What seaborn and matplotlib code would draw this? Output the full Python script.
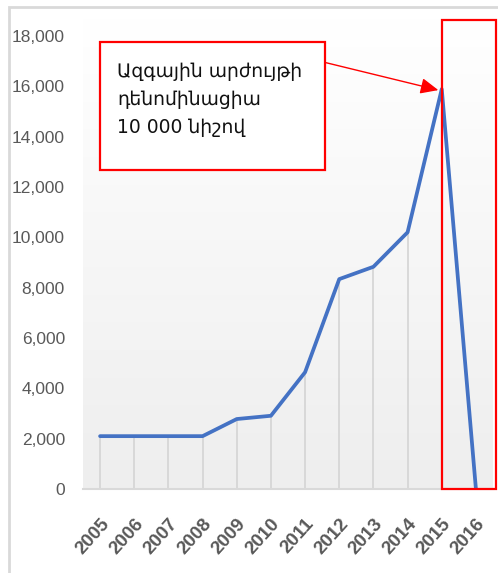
import numpy as np
import pandas as pd
import matplotlib
matplotlib.use("Agg")
import matplotlib.pyplot as plt
from matplotlib.patches import Rectangle
import seaborn as sns

# ---- data ----
years = [2005, 2006, 2007, 2008, 2009, 2010, 2011, 2012, 2013, 2014, 2015, 2016]
values = [2100, 2100, 2100, 2100, 2780, 2910, 4640, 8340, 8830, 10200, 15890, 0]
year_labels = [str(y) for y in years]
y_ticks = [0, 2000, 4000, 6000, 8000, 10000, 12000, 14000, 16000, 18000]
note_text = "Ազգային արժույթի\nդենոմինացիա\n10 000 նիշով"

df = pd.DataFrame({"year": years, "value": values})

sns.set_theme(style="white")
plt.rcParams["font.family"] = ["Liberation Sans", "DejaVu Sans"]

W, H = 498, 573
fig = plt.figure(figsize=(W / 100, H / 100), dpi=100)
fig.patch.set_facecolor("white")

# axes placement (pixels)
ax_left, ax_right, ax_bottom_px, ax_top_px = 83, 493, 489, 18
ax = fig.add_axes([ax_left / W, (H - ax_bottom_px) / H,
                   (ax_right - ax_left) / W, (ax_bottom_px - ax_top_px) / H])

ymax = 18000 * (ax_bottom_px - ax_top_px) / (ax_bottom_px - 36)
ax.set_xlim(years[0] - 0.5, years[-1] + 0.5)
ax.set_ylim(0, ymax)

# gradient background
grad = np.linspace(0, 1, 256).reshape(-1, 1)
cmap = matplotlib.colors.LinearSegmentedColormap.from_list("g", ["#ffffff", "#eeeeee"])
ax.imshow(grad, extent=[years[0] - 0.5, years[-1] + 0.5, 0, ymax], aspect="auto",
          cmap=cmap, origin="upper", zorder=0)

# drop lines
ax.vlines(df["year"], 0, df["value"], color="#d4d4d4", linewidth=1.2, zorder=1)

sns.lineplot(data=df, x="year", y="value", ax=ax, color="#4472C4", linewidth=2.7,
             zorder=3)

for s in ["top", "right", "left"]:
    ax.spines[s].set_visible(False)
ax.spines["bottom"].set_color("#d9d9d9")
ax.spines["bottom"].set_linewidth(1.5)
ax.set_xlabel("")
ax.set_ylabel("")

ax.set_yticks(y_ticks)
ax.set_yticklabels([f"{v:,}" for v in y_ticks], fontsize=12.5, color="#595959")
ax.tick_params(axis="y", length=0, pad=13)
ax.set_xticks(years)
ax.set_xticklabels(year_labels, rotation=48, ha="right", rotation_mode="anchor",
                   fontsize=13.5, fontweight="bold", color="#595959")
ax.tick_params(axis="x", length=0, pad=19)

# red rectangle around 2015-2016
rect = Rectangle((years[-2], 0), 1.6, 18650, fill=False, edgecolor="#ff0000",
                 linewidth=1.6, clip_on=False, zorder=5)
ax.add_patch(rect)

# annotation box
box_x0, box_x1 = 2005.0, 2011.58
box_y0, box_y1 = 12677, 17764
ax.add_patch(Rectangle((box_x0, box_y0), box_x1 - box_x0, box_y1 - box_y0,
                       facecolor="white", edgecolor="#ff0000", linewidth=1.6,
                       zorder=6, clip_on=False))
ax.text(box_x0 + 0.5, 16950, note_text, fontsize=13.5, color="#111111",
        family=["DejaVu Sans"], va="top", ha="left", linespacing=1.6, zorder=7)
ax.annotate("", xy=(years[-2] - 0.1, 15850), xytext=(box_x1, 16950),
            arrowprops=dict(arrowstyle="-|>,head_length=0.9,head_width=0.4",
                            color="#ff0000", linewidth=1.0, shrinkA=0, shrinkB=0),
            zorder=7)

# outer frame (light gray)
fig.add_artist(Rectangle((9 / W, -0.05), 1.2, (H - 7) / H + 0.05,
                         transform=fig.transFigure, fill=False,
                         edgecolor="#d9d9d9", linewidth=2))

fig.savefig("out.png", dpi=100)
